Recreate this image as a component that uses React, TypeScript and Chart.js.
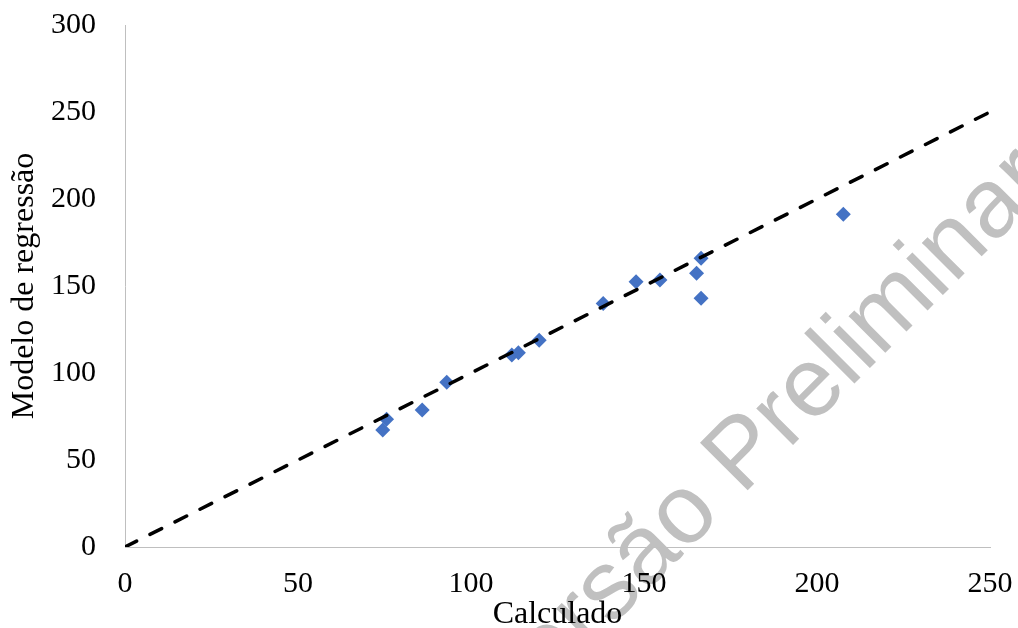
import React, { useEffect, useRef } from "react";
import { Chart, registerables } from "chart.js";

Chart.register(...registerables);

// Observed points (Calculado vs Modelo de regressão)
const calculado = [74.5, 75.6, 85.9, 93.0, 111.8, 113.7, 119.7, 138.2, 147.7, 154.6, 165.2, 166.5, 166.5, 207.6];
const modelo = [67.2, 73.4, 78.7, 94.7, 110.3, 111.6, 118.8, 140.0, 152.5, 153.4, 157.3, 165.9, 142.9, 191.2];

// Reference 1:1 line
const lineX = [0, 250];
const lineY = [0, 250];

const xTicks = [0, 50, 100, 150, 200, 250];
const yTicks = [0, 50, 100, 150, 200, 250, 300];

const xTitle = "Calculado";
const yTitle = "Modelo de regressão";
const watermark = "Versão Preliminar";

const SERIF = "'Liberation Serif', 'Times New Roman', serif";

const clearPadding = (scale: any) => {
  scale.paddingTop = 0;
  scale.paddingBottom = 0;
  scale.paddingLeft = 0;
  scale.paddingRight = 0;
};

export default function App() {
  const canvasRef = useRef<HTMLCanvasElement | null>(null);

  useEffect(() => {
    const canvas = canvasRef.current;
    if (!canvas) return;
    const chart = new Chart(canvas, {
      type: "scatter",
      data: {
        datasets: [
          {
            label: "1:1",
            data: lineX.map((x, i) => ({ x, y: lineY[i] })),
            showLine: true,
            borderColor: "#000000",
            borderWidth: 3.5,
            borderDash: [13, 15],
            borderCapStyle: "round",
            pointRadius: 0,
            fill: false,
          },
          {
            label: "Dados",
            data: calculado.map((x, i) => ({ x, y: modelo[i] })),
            pointStyle: "rectRot",
            pointRadius: 7.5,
            backgroundColor: "#4472C4",
            borderColor: "#4472C4",
            borderWidth: 0,
          },
        ],
      },
      options: {
        animation: false,
        responsive: false,
        devicePixelRatio: 1,
        layout: { padding: { top: 25, right: 28, left: 0, bottom: 0 } },
        plugins: {
          legend: { display: false },
          tooltip: { enabled: false },
        },
        scales: {
          x: {
            type: "linear",
            min: 0,
            max: 250,
            afterBuildTicks: (scale: any) => {
              scale.ticks = xTicks.map((v) => ({ value: v }));
            },
            afterFit: (scale: any) => {
              scale.height = 81;
              clearPadding(scale);
            },
            ticks: {
              color: "#000000",
              font: { family: SERIF, size: 30 },
              padding: 19,
              maxRotation: 0,
            },
            grid: { display: false, drawTicks: false },
            border: { display: true, color: "#bfbfbf", width: 1 },
            title: {
              display: true,
              text: xTitle,
              color: "#000000",
              font: { family: SERIF, size: 32 },
              padding: { top: 0, bottom: -6 },
            },
          },
          y: {
            type: "linear",
            min: 0,
            max: 300,
            afterBuildTicks: (scale: any) => {
              scale.ticks = yTicks.map((v) => ({ value: v }));
            },
            afterFit: (scale: any) => {
              scale.width = 125;
              clearPadding(scale);
            },
            ticks: {
              color: "#000000",
              font: { family: SERIF, size: 30 },
              padding: 29,
            },
            grid: { display: false, drawTicks: false },
            border: { display: true, color: "#bfbfbf", width: 1 },
            title: {
              display: true,
              text: yTitle,
              color: "#000000",
              font: { family: SERIF, size: 32 },
              padding: { top: 5, bottom: 0 },
            },
          },
        },
      },
    });
    return () => chart.destroy();
  }, []);

  return (
    <div
      style={{
        position: "absolute",
        left: 0,
        top: 0,
        width: 1018,
        height: 628,
        overflow: "hidden",
        background: "#ffffff",
      }}
    >
      <div
        style={{
          position: "absolute",
          left: 507,
          top: 731,
          transform: "rotate(-45deg)",
          transformOrigin: "0 0",
          zIndex: 0,
        }}
      >
        <span
          style={{
            position: "relative",
            top: -83,
            display: "block",
            whiteSpace: "nowrap",
            fontFamily: "'Liberation Sans', Arial, sans-serif",
            fontSize: 98,
            lineHeight: 1,
            color: "#c0c0c0",
          }}
        >
          {watermark}
        </span>
      </div>
      <canvas
        ref={canvasRef}
        width={1018}
        height={628}
        style={{ position: "absolute", left: 0, top: 0, zIndex: 1 }}
      />
    </div>
  );
}
